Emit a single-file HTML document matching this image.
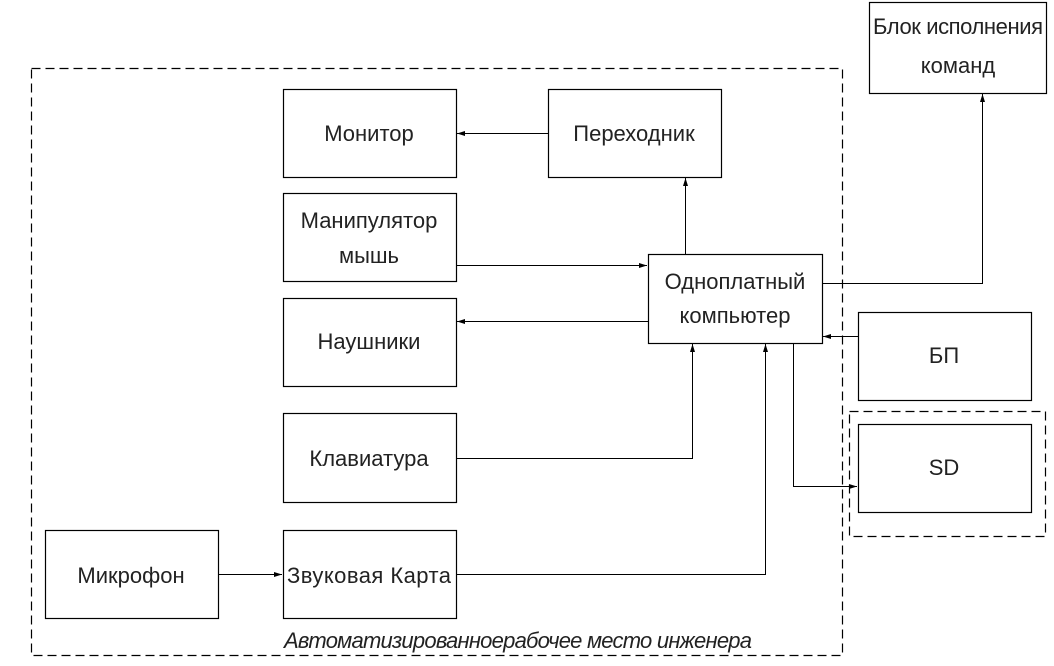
<!DOCTYPE html>
<html><head><meta charset="utf-8"><style>
body{margin:0;background:#fff}
svg text{font-family:"Liberation Sans Narrow","Liberation Sans",sans-serif;font-size:22px;fill:#222;text-anchor:middle}
</style></head><body>
<svg width="1054" height="661" viewBox="0 0 1054 661" xmlns="http://www.w3.org/2000/svg">
<defs><marker id="a" markerWidth="8" markerHeight="6" refX="8" refY="3" orient="auto" markerUnits="userSpaceOnUse"><path d="M0,0.5 L8,3 L0,5.5z" fill="#000"/></marker></defs>
<g fill="none" stroke="#000" stroke-width="1.2">
<rect x="31.5" y="68.5" width="811" height="587" stroke-dasharray="9,5"/>
<rect x="849.5" y="411.5" width="196" height="125" stroke-dasharray="9,5"/>
<rect x="283.5" y="89.5" width="173" height="88"/>
<rect x="548.5" y="89.5" width="173" height="88"/>
<rect x="283.5" y="193.5" width="173" height="88"/>
<rect x="283.5" y="298.5" width="173" height="88"/>
<rect x="283.5" y="413.5" width="173" height="89"/>
<rect x="283.5" y="530.5" width="173" height="88"/>
<rect x="45.5" y="530.5" width="173" height="88"/>
<rect x="648.5" y="254.5" width="174" height="89"/>
<rect x="858.5" y="312.5" width="173" height="88"/>
<rect x="858.5" y="424.5" width="173" height="88"/>
<rect x="869.5" y="2.5" width="177" height="91"/>
<g stroke-width="1">
<path d="M548,133.5H457" marker-end="url(#a)"/>
<path d="M685.5,254V178" marker-end="url(#a)"/>
<path d="M456,265.5H647" marker-end="url(#a)"/>
<path d="M648,321.5H457" marker-end="url(#a)"/>
<path d="M456,458.5H692.5V344" marker-end="url(#a)"/>
<path d="M456,574.5H765.5V344" marker-end="url(#a)"/>
<path d="M218,574.5H282" marker-end="url(#a)"/>
<path d="M822,283.5H982.5V94" marker-end="url(#a)"/>
<path d="M858,336.5H823" marker-end="url(#a)"/>
<path d="M793.5,344V486.5H857" marker-end="url(#a)"/>
</g></g>
<text x="369" y="141">Монитор</text>
<text x="634" y="141">Переходник</text>
<text x="369" y="228">Манипулятор</text>
<text x="369" y="263">мышь</text>
<text x="369" y="349">Наушники</text>
<text x="369" y="466">Клавиатура</text>
<text x="369" y="583" textLength="164">Звуковая Карта</text>
<text x="131" y="583">Микрофон</text>
<text x="735" y="289">Одноплатный</text>
<text x="735" y="323">компьютер</text>
<text x="944" y="363">БП</text>
<text x="944" y="475">SD</text>
<text x="958" y="34" textLength="170">Блок исполнения</text>
<text x="958" y="73">команд</text>
<text x="518" y="648" font-style="italic" textLength="468">Автоматизированноерабочее место инженера</text>
</svg>
</body></html>
